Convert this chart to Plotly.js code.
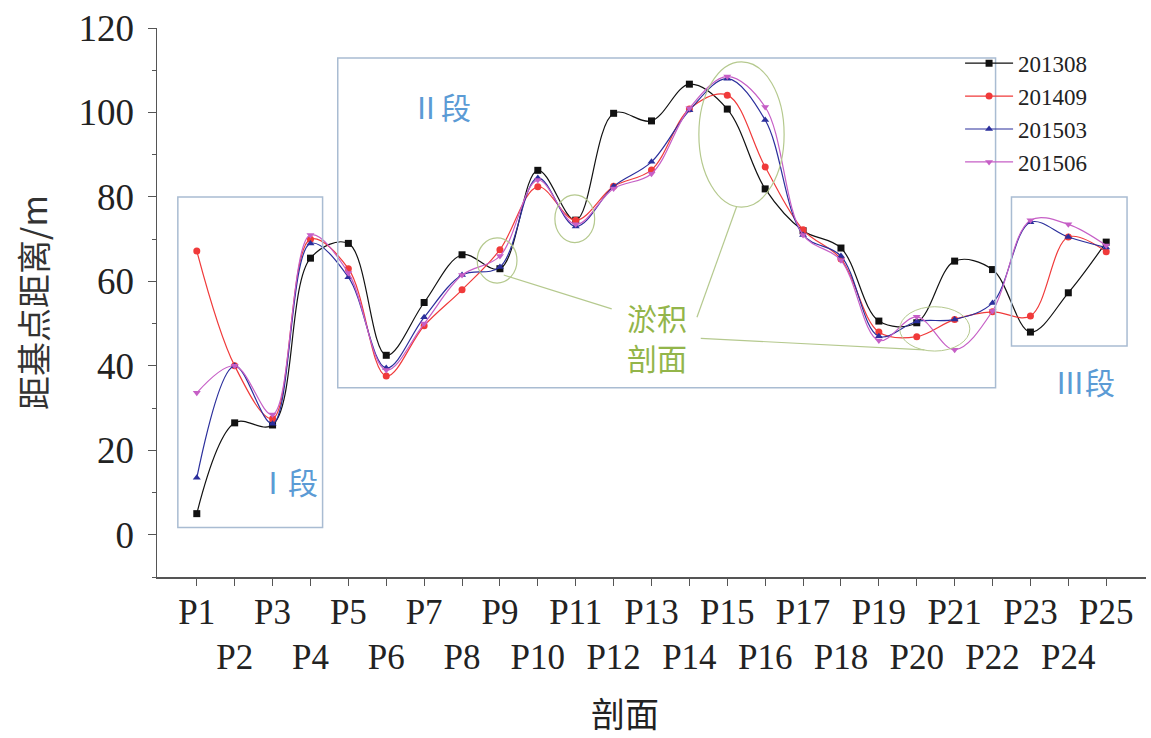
<!DOCTYPE html>
<html>
<head>
<meta charset="utf-8">
<script src="https://cdn.plot.ly/plotly-3.0.1.min.js"></script>
<style>
  html, body { margin: 0; padding: 0; background: #fff; }
  #chart { width: 1151px; height: 738px; }
</style>
</head>
<body>
<div id="chart"></div>
<script>
// Profile names and positions along the bank
const profiles = ["P1","P2","P3","P4","P5","P6","P7","P8","P9","P10","P11","P12","P13",
                  "P14","P15","P16","P17","P18","P19","P20","P21","P22","P23","P24","P25"];
const profileIndex = [1,2,3,4,5,6,7,8,9,10,11,12,13,14,15,16,17,18,19,20,21,22,23,24,25];

// Distance from base point (m) for each survey
const d201308 = [5, 26.5, 26, 65.5, 69, 42.5, 55, 66.3, 63, 86.3, 74.5, 99.8, 98, 106.7, 100.8, 81.9, 72, 67.9, 50.6, 50.2, 64.8, 62.8, 48, 57.3, 69.3];
const d201409 = [67.2, 40, 27.5, 70, 63, 37.6, 49.5, 58, 67.5, 82.4, 74.5, 82.5, 86.4, 100.8, 104.1, 87.1, 72.2, 65.3, 48, 46.9, 51, 52.8, 51.8, 70.5, 67];
const d201503 = [13.5, 40, 26.3, 69, 61, 39.5, 51.5, 61.5, 63.4, 84.5, 73, 82.5, 88.3, 100.5, 108, 98.2, 71, 66, 47, 50.5, 51, 54.9, 74, 70.5, 68];
const d201506 = [33.6, 40, 28.5, 71, 62, 39, 50, 61.5, 66, 84, 73.5, 82, 85.5, 101, 108.5, 101.3, 71, 65, 46, 51.6, 43.8, 53, 74.5, 73.5, 68.5];

const surveyNames = ["201308", "201409", "201503", "201506"];

// Odd profiles on the first label row, even profiles on the second
const tickLabels = profiles.map((p, i) => (i % 2 === 0 ? p : "<br>" + p));

const serif = "Liberation Serif, Times New Roman, serif";
const cjk = "Noto Sans CJK SC, sans-serif";

function series(name, y, color, symbol) {
  return {
    type: "scatter", mode: "lines+markers", name: name,
    x: profileIndex, y: y,
    line: { color: color, width: 1.2, shape: "spline", smoothing: 1 },
    marker: { color: color, symbol: symbol, size: 7 }
  };
}

const traces = [
  series(surveyNames[0], d201308, "#111111", "square"),
  series(surveyNames[1], d201409, "#f03a3a", "circle"),
  series(surveyNames[2], d201503, "#2b2f9c", "triangle-up"),
  series(surveyNames[3], d201506, "#c65fc6", "triangle-down")
];

const boxColor = "#a9bcd2";
const siltColor = "#b5c98e";

const shapes = [
  // segment boxes
  { type: "rect", xref: "x", yref: "y", x0: 0.5, x1: 4.32, y0: 1.7, y1: 80, line: { color: boxColor, width: 1.5 } },
  { type: "rect", xref: "x", yref: "y", x0: 4.72, x1: 22.08, y0: 34.8, y1: 112.9, line: { color: boxColor, width: 1.5 } },
  { type: "rect", xref: "x", yref: "y", x0: 22.5, x1: 25.55, y0: 44.7, y1: 80, line: { color: boxColor, width: 1.5 } },
  // silted profiles
  { type: "circle", xref: "x", yref: "y", x0: 8.4, x1: 9.45, y0: 59.6, y1: 70.3, line: { color: siltColor, width: 1.2 } },
  { type: "circle", xref: "x", yref: "y", x0: 10.45, x1: 11.5, y0: 69.2, y1: 80.5, line: { color: siltColor, width: 1.2 } },
  { type: "circle", xref: "x", yref: "y", x0: 14.25, x1: 16.5, y0: 77.6, y1: 112, line: { color: siltColor, width: 1.2 } },
  { type: "circle", xref: "x", yref: "y", x0: 19.55, x1: 21.4, y0: 43.5, y1: 54, line: { color: siltColor, width: 1 } },
  // leader lines to the silted profiles
  { type: "line", xref: "x", yref: "y", x0: 9.1, y0: 61.5, x1: 11.95, y1: 53.5, line: { color: siltColor, width: 1.2 } },
  { type: "line", xref: "x", yref: "y", x0: 14.2, y0: 51.5, x1: 15.25, y1: 77.8, line: { color: siltColor, width: 1.2 } },
  { type: "line", xref: "x", yref: "y", x0: 14.3, y0: 46.5, x1: 20.2, y1: 43.8, line: { color: siltColor, width: 1.2 } }
];

const segColor = "#5b9bd5";
const siltText = "#93b54a";
const annotations = [
  { text: "Ⅰ段", x: 3.4, y: 12.8, xref: "x", yref: "y", showarrow: false, font: { family: cjk, size: 30, color: segColor } },
  { text: "Ⅱ段", x: 7.45, y: 101.5, xref: "x", yref: "y", showarrow: false, font: { family: cjk, size: 30, color: segColor } },
  { text: "Ⅲ段", x: 24.45, y: 36.5, xref: "x", yref: "y", showarrow: false, font: { family: cjk, size: 30, color: segColor } },
  { text: "淤积", x: 13.15, y: 51.5, xref: "x", yref: "y", showarrow: false, font: { family: cjk, size: 30, color: siltText } },
  { text: "剖面", x: 13.15, y: 42.2, xref: "x", yref: "y", showarrow: false, font: { family: cjk, size: 30, color: siltText } },
  { text: "剖面", x: 0.473, y: -0.246, xref: "paper", yref: "paper", yanchor: "middle", showarrow: false,
    font: { family: cjk, size: 34, color: "#222" } }
];

const layout = {
  width: 1151, height: 738,
  margin: { l: 157, r: 5, t: 28, b: 161 },
  paper_bgcolor: "#ffffff", plot_bgcolor: "#ffffff",
  font: { family: serif, color: "#222" },
  showlegend: true,
  legend: {
    x: 0.812, y: 0.975, xanchor: "left", yanchor: "top",
    bgcolor: "rgba(0,0,0,0)", borderwidth: 0,
    font: { family: serif, size: 23, color: "#222" },
    itemwidth: 48, tracegroupgap: 0
  },
  xaxis: {
    range: [-0.05, 26.05],
    tickmode: "array", tickvals: profileIndex, ticktext: tickLabels,
    ticks: "outside", ticklen: 7, tickcolor: "#555", tickwidth: 1,
    showline: true, linecolor: "#555", linewidth: 1.5,
    showgrid: false, zeroline: false,
    tickfont: { family: serif, size: 35, color: "#222" },
    ticklabelstandoff: -4,
    tickangle: 0
  },
  yaxis: {
    range: [-10, 120],
    tickmode: "linear", tick0: 0, dtick: 20,
    ticks: "outside", ticklen: 8, tickcolor: "#555", tickwidth: 1,
    minor: { dtick: 10, ticks: "outside", ticklen: 4, tickcolor: "#555" },
    showline: true, linecolor: "#555", linewidth: 1.5,
    showgrid: false, zeroline: false,
    tickfont: { family: serif, size: 37, color: "#222" },
    ticklabelstandoff: 6,
    title: { text: "距基点距离/m", font: { family: cjk, size: 34, color: "#333" }, standoff: 20 }
  },
  shapes: shapes,
  annotations: annotations
};

Plotly.newPlot("chart", traces, layout, { displayModeBar: false, staticPlot: true });
</script>
</body>
</html>
